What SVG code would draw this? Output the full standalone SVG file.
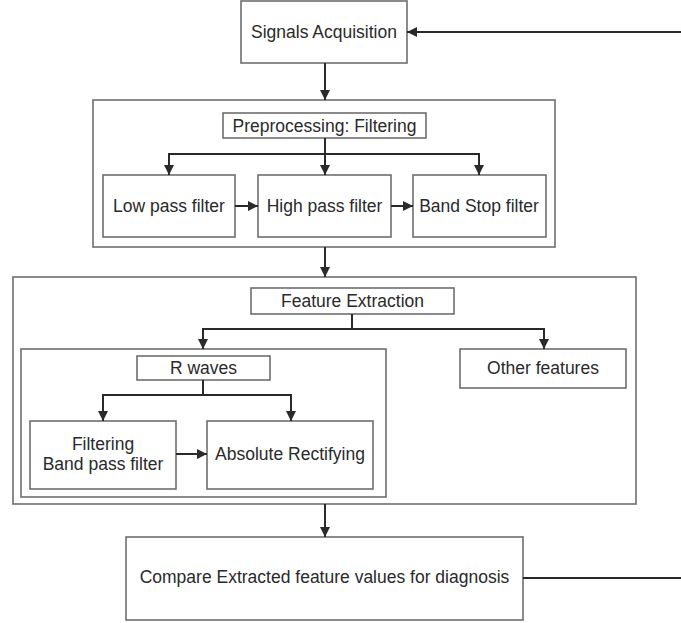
<svg xmlns="http://www.w3.org/2000/svg" width="681" height="623" viewBox="0 0 681 623">
<style>
.box{fill:#fff;stroke:#6e6e6e;stroke-width:1.6}
.frame{fill:none;stroke:#6e6e6e;stroke-width:1.6}
.t{font-family:"Liberation Sans",Arial,sans-serif;font-size:17.5px;fill:#2a2a2a;text-anchor:middle}
.c{fill:none;stroke:#2a2a2a;stroke-width:2}
</style>
<defs>
<marker id="ah" viewBox="0 0 10 10" refX="10" refY="5" markerWidth="5" markerHeight="5" markerUnits="strokeWidth" orient="auto">
<path d="M0,0 L10,5 L0,10 Z" fill="#2a2a2a"/>
</marker>
</defs>
<rect width="681" height="623" fill="#fff"/>

<g id="preproc-frame"><rect class="frame" x="93" y="100" width="462" height="147"/></g>
<g id="feature-frame"><rect class="frame" x="13" y="277" width="623" height="227"/></g>
<g id="rwaves-frame"><rect class="frame" x="21" y="349" width="365" height="148"/></g>

<g id="signals"><rect class="box" x="241" y="1" width="166" height="62"/><text class="t" x="324" y="38">Signals Acquisition</text></g>
<g id="preprocessing"><rect class="box" x="223" y="113" width="203" height="25"/><text class="t" x="324.5" y="131.5">Preprocessing: Filtering</text></g>
<g id="lowpass"><rect class="box" x="103" y="175" width="132" height="62"/><text class="t" x="169" y="212">Low pass filter</text></g>
<g id="highpass"><rect class="box" x="258" y="175" width="133" height="62"/><text class="t" x="324.5" y="212">High pass filter</text></g>
<g id="bandstop"><rect class="box" x="413" y="175" width="133" height="62"/><text class="t" x="479" y="212">Band Stop filter</text></g>
<g id="featureextraction"><rect class="box" x="251" y="288" width="203" height="26"/><text class="t" x="352.5" y="307">Feature Extraction</text></g>
<g id="rwaves"><rect class="box" x="137" y="356" width="133" height="24"/><text class="t" x="203.5" y="374">R waves</text></g>
<g id="otherfeatures"><rect class="box" x="460" y="349" width="166" height="39"/><text class="t" x="543" y="374">Other features</text></g>
<g id="filtering"><rect class="box" x="30" y="421" width="146" height="68"/><text class="t" x="103" y="450">Filtering</text><text class="t" x="103" y="470">Band pass filter</text></g>
<g id="absolute"><rect class="box" x="207" y="421" width="166" height="68"/><text class="t" x="290" y="460">Absolute Rectifying</text></g>
<g id="compare"><rect class="box" x="126" y="537" width="397" height="83"/><text class="t" x="324.5" y="583">Compare Extracted feature values for diagnosis</text></g>

<g id="connectors">
<path class="c" d="M325,63 V100" marker-end="url(#ah)"/>
<path class="c" d="M325,138 V175" marker-end="url(#ah)"/>
<path class="c" d="M325,154 H169 V175" marker-end="url(#ah)"/>
<path class="c" d="M325,154 H479 V175" marker-end="url(#ah)"/>
<path class="c" d="M235,206 H258" marker-end="url(#ah)"/>
<path class="c" d="M391,206 H413" marker-end="url(#ah)"/>
<path class="c" d="M325,247 V277" marker-end="url(#ah)"/>
<path class="c" d="M352,314 V329 H203 V349" marker-end="url(#ah)"/>
<path class="c" d="M352,329 H544 V349" marker-end="url(#ah)"/>
<path class="c" d="M203,380 V395 H103 V421" marker-end="url(#ah)"/>
<path class="c" d="M203,395 H291 V421" marker-end="url(#ah)"/>
<path class="c" d="M176,454 H207" marker-end="url(#ah)"/>
<path class="c" d="M325,504 V537" marker-end="url(#ah)"/>
<path class="c" d="M523,578 H690 V32 H407" marker-end="url(#ah)"/>
</g>
</svg>
